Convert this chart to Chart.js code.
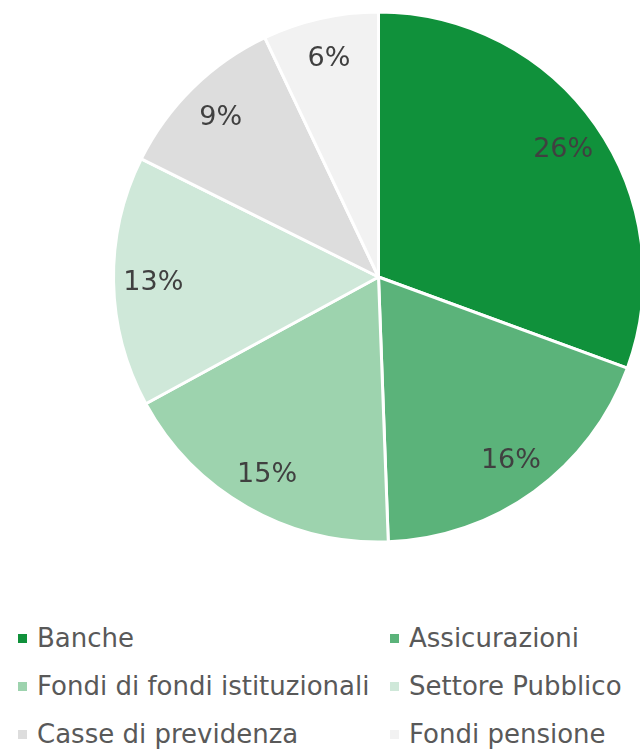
<!DOCTYPE html>
<html>
<head>
<meta charset="utf-8">
<script src="https://cdn.jsdelivr.net/npm/chart.js@4/dist/chart.umd.min.js"></script>
<style>
  html, body { margin: 0; padding: 0; background: #fff; overflow: hidden; }
  body { width: 640px; height: 749px; position: relative; font-family: "DejaVu Sans", Verdana, sans-serif; }
  #pieWrap { position: absolute; left: 0; top: 0; width: 760px; height: 560px; }
  #legend { position: absolute; left: 0; top: 623px; width: 640px; }
  .item { position: absolute; font-size: 26px; color: #595959; white-space: nowrap; line-height: 30px; }
  .item .box { display: inline-block; width: 9px; height: 9px; margin-right: 10px; vertical-align: 4px; }
</style>
</head>
<body>
<div id="pieWrap"><canvas id="pieChart"></canvas></div>
<div id="legend"></div>
<script>
var categories = ['Banche', 'Assicurazioni', 'Fondi di fondi istituzionali', 'Settore Pubblico', 'Casse di previdenza', 'Fondi pensione'];
var quote = [26, 16, 15, 13, 9, 6];
var colori = ['#10913b', '#5bb37a', '#9dd3ae', '#cfe8d9', '#dddddd', '#f2f2f2'];

// percent labels placed inside each slice
var etichette = {
    id: 'etichette',
    afterDatasetsDraw: function(chart) {
        var ctx = chart.ctx;
        var meta = chart.getDatasetMeta(0);
        ctx.save();
        ctx.font = '27px "DejaVu Sans", Verdana, sans-serif';
        ctx.fillStyle = '#404040';
        ctx.textAlign = 'center';
        ctx.textBaseline = 'middle';
        meta.data.forEach(function(arc, i) {
            var p = arc.getProps(['x', 'y', 'startAngle', 'endAngle', 'outerRadius'], true);
            var mid = (p.startAngle + p.endAngle) / 2;
            var r = p.outerRadius * 0.85;
            ctx.fillText(quote[i] + '%', p.x + Math.cos(mid) * r, p.y + Math.sin(mid) * r + 2);
        });
        ctx.restore();
    }
};

document.addEventListener('DOMContentLoaded', function() {
    var ctxPie = document.getElementById('pieChart').getContext('2d');
    var pieChart = new Chart(ctxPie, {
        type: 'pie',
        data: {
            labels: categories,
            datasets: [{
                data: quote,
                backgroundColor: colori,
                borderColor: '#ffffff',
                borderWidth: 3
            }]
        },
        options: {
            responsive: true,
            maintainAspectRatio: false,
            animation: false,
            layout: { padding: { left: 112, right: 115, top: 10, bottom: 16 } },
            plugins: {
                legend: { display: false },
                tooltip: { enabled: false }
            }
        },
        plugins: [etichette]
    });

    // two-column legend under the pie
    var legend = document.getElementById('legend');
    var cols = [18, 390];
    var rows = [0, 48, 96];
    pieChart.options.plugins.legend.labels.generateLabels(pieChart).forEach(function(it, i) {
        var div = document.createElement('div');
        div.className = 'item';
        div.style.left = cols[i % 2] + 'px';
        div.style.top = rows[Math.floor(i / 2)] + 'px';
        var box = document.createElement('span');
        box.className = 'box';
        box.style.background = it.fillStyle;
        div.appendChild(box);
        div.appendChild(document.createTextNode(it.text));
        legend.appendChild(div);
    });
});
</script>
</body>
</html>
